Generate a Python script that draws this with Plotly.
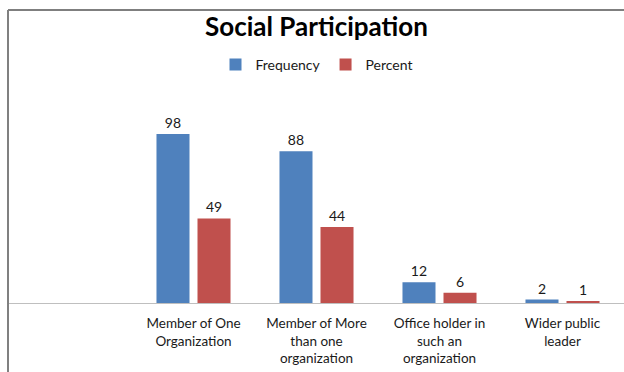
import plotly.graph_objects as go

# Social participation of respondents
categories = [
    "Member of One<br>Organization",
    "Member of More<br>than one<br>organization",
    "Office holder in<br>such an<br>organization",
    "Wider public<br>leader",
]
frequency = [98, 88, 12, 2]
percent = [49, 44, 6, 1]

BLUE = "#4F81BD"
RED = "#C0504D"
FONT = "Lato, Liberation Sans, sans-serif"
TEXT = "#1a1a1a"

positions = list(range(len(categories)))

fig = go.Figure()
for name, values, color in [("Frequency", frequency, BLUE), ("Percent", percent, RED)]:
    fig.add_trace(go.Bar(
        name=name,
        x=positions,
        y=values,
        marker=dict(color=color, line=dict(width=0)),
        text=[str(v) for v in values],
        textposition="outside",
        textfont=dict(family=FONT, size=14, color=TEXT),
        cliponaxis=False,
    ))

fig.update_layout(
    width=624,
    height=372,
    margin=dict(l=9, r=0, t=96, b=69),
    paper_bgcolor="white",
    plot_bgcolor="white",
    barmode="group",
    bargap=0.333,
    bargroupgap=0.195,
    font=dict(family=FONT, size=13, color=TEXT),
    title=dict(
        text="<b>Social Participation</b>",
        font=dict(family=FONT, size=26, color="black"),
        x=0.5, xref="paper", xanchor="center",
        y=1 - 27 / 372, yref="container", yanchor="middle",
    ),
    legend=dict(
        orientation="h",
        x=0.5, xref="paper", xanchor="center",
        y=1 - 65 / 372, yref="container", yanchor="middle",
        font=dict(family=FONT, size=14, color=TEXT),
        itemwidth=30,
        traceorder="normal",
    ),
    showlegend=True,
    xaxis=dict(
        range=[-1.5, 3.5],
        tickmode="array",
        tickvals=positions,
        ticktext=categories,
        showline=True,
        linecolor="#BFBFBF",
        linewidth=1,
        ticks="",
        showgrid=False,
        zeroline=False,
        automargin=False,
        tickfont=dict(family=FONT, size=13.5, color=TEXT),
        ticklabelstandoff=8,
    ),
    yaxis=dict(
        range=[0, 120],
        visible=False,
        showgrid=False,
        zeroline=False,
    ),
    shapes=[
        # chart frame: top and left edges
        dict(type="line", xref="paper", yref="paper",
             xsizemode="pixel", xanchor=0, x0=-1, x1=616,
             ysizemode="pixel", yanchor=1, y0=86, y1=86,
             line=dict(color="black", width=1.2)),
        dict(type="line", xref="paper", yref="paper",
             xsizemode="pixel", xanchor=0, x0=-1, x1=-1,
             ysizemode="pixel", yanchor=1, y0=86, y1=-300,
             line=dict(color="#808080", width=2)),
    ],
)

fig.write_html("out.html")
